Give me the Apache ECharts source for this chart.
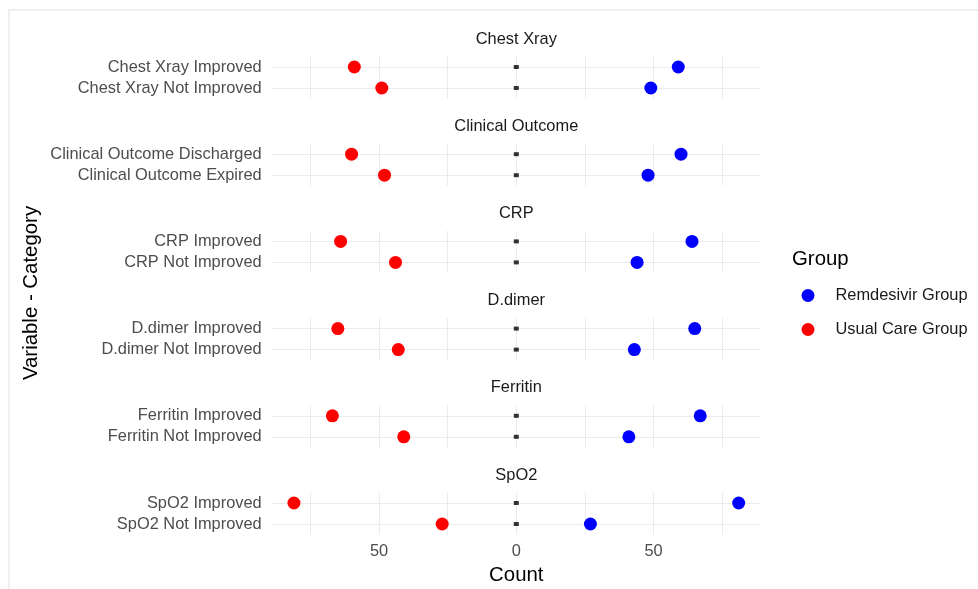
<!DOCTYPE html>
<html>
<head>
<meta charset="UTF-8">
<title>Count by Variable - Category</title>
<style>
  * { margin: 0; padding: 0; }
  html, body { width: 100%; height: 100%; background: #fff; }
  #chart { width: 978px; height: 589px; }
</style>
</head>
<body>
<div id="chart"></div>
<script src="https://cdn.jsdelivr.net/npm/echarts@6/dist/echarts.min.js"></script>
<script>
// facets and their rows
const panels = ['Chest Xray', 'Clinical Outcome', 'CRP', 'D.dimer', 'Ferritin', 'SpO2'];
const categories = [
  ['Chest Xray Improved', 'Chest Xray Not Improved'],
  ['Clinical Outcome Discharged', 'Clinical Outcome Expired'],
  ['CRP Improved', 'CRP Not Improved'],
  ['D.dimer Improved', 'D.dimer Not Improved'],
  ['Ferritin Improved', 'Ferritin Not Improved'],
  ['SpO2 Improved', 'SpO2 Not Improved']
];
// counts per panel: [first row, second row]
const remdesivir = [[59, 49], [60, 48], [64, 44], [65, 43], [67, 41], [81, 27]];
const usualCare = [[59, 49], [60, 48], [64, 44], [65, 43], [67, 41], [81, 27]];
const xTickLabels = [-50, 0, 50];
const xGridValues = [-75, -50, -25, 0, 25, 50, 75];

const FONT = '"Liberation Sans", Arial, sans-serif';
const SMALL = 16.4, BIG = 20.4;
const chart = echarts.init(document.getElementById('chart'));

// symmetric range like ggplot's 5% expansion
const maxCount = Math.max(...remdesivir.flat(), ...usualCare.flat());
const lim = maxCount * 1.1;

const top0 = 56.5, pitch = 87.2, panelH = 42;
const gridLeft = 271.7, gridWidth = 489.2;
const centerX = gridLeft + gridWidth / 2;

const grids = [], xAxes = [], yAxes = [], series = [], graphics = [];
const last = panels.length - 1;

panels.forEach((p, i) => {
  const top = top0 + pitch * i;
  grids.push({ left: gridLeft, width: gridWidth, top: top, height: panelH });
  xAxes.push({
    type: 'value', gridIndex: i, min: -lim, max: lim,
    axisLine: { show: false },
    axisTick: { show: false, customValues: xGridValues },
    splitLine: { show: true, lineStyle: { color: '#ebebeb', width: 1 } },
    axisLabel: {
      show: i === last, customValues: xTickLabels,
      formatter: v => String(Math.abs(v)),
      color: '#4d4d4d', fontSize: SMALL, fontFamily: FONT, margin: 9
    }
  });
  yAxes.push({
    type: 'category', gridIndex: i, data: categories[i], inverse: true,
    axisLine: { show: false }, axisTick: { show: false },
    splitLine: { show: true, alignWithLabel: true, lineStyle: { color: '#ebebeb', width: 1 } },
    axisLabel: { color: '#4d4d4d', fontSize: SMALL, fontFamily: FONT, margin: 10 }
  });
  series.push({
    name: 'zero', type: 'scatter', xAxisIndex: i, yAxisIndex: i,
    symbol: 'rect', symbolSize: [5, 4], itemStyle: { color: '#000' },
    data: categories[i].map(c => [0, c]), silent: true, z: 2
  });
  series.push({
    name: 'Usual Care Group', type: 'scatter', xAxisIndex: i, yAxisIndex: i,
    symbolSize: 13, itemStyle: { color: '#ff0000', opacity: 1 },
    data: usualCare[i].map((v, j) => [-v, categories[i][j]]), z: 3
  });
  series.push({
    name: 'Remdesivir Group', type: 'scatter', xAxisIndex: i, yAxisIndex: i,
    symbolSize: 13, itemStyle: { color: '#0000ff', opacity: 1 },
    data: remdesivir[i].map((v, j) => [v, categories[i][j]]), z: 3
  });
  // facet strip
  graphics.push({
    type: 'text', x: centerX, y: top - 17.5,
    style: { text: p, fill: '#1a1a1a', font: SMALL + 'px ' + FONT,
      align: 'center', verticalAlign: 'middle', textAlign: 'center', textVerticalAlign: 'middle' }
  });
});

// faint frame
graphics.push({ type: 'rect', z: -1, shape: { x: 8, y: 9, width: 970, height: 2 }, style: { fill: '#f0f0f0' } });
graphics.push({ type: 'rect', z: -1, shape: { x: 8, y: 9, width: 2, height: 580 }, style: { fill: '#f0f0f0' } });
// axis titles
graphics.push({
  type: 'text', x: centerX, y: 575,
  style: { text: 'Count', fill: '#000', font: BIG + 'px ' + FONT,
    align: 'center', verticalAlign: 'middle', textAlign: 'center', textVerticalAlign: 'middle' }
});
graphics.push({
  type: 'text', x: 31, y: 293, rotation: Math.PI / 2,
  style: { text: 'Variable - Category', fill: '#000', font: BIG + 'px ' + FONT,
    align: 'center', verticalAlign: 'middle', textAlign: 'center', textVerticalAlign: 'middle' }
});
graphics.push({
  type: 'text', x: 792, y: 259,
  style: { text: 'Group', fill: '#000', font: BIG + 'px ' + FONT,
    align: 'left', verticalAlign: 'middle', textAlign: 'left', textVerticalAlign: 'middle' }
});

chart.setOption({
  backgroundColor: '#ffffff',
  animation: false,
  grid: grids,
  xAxis: xAxes,
  yAxis: yAxes,
  legend: {
    data: ['Remdesivir Group', 'Usual Care Group'],
    orient: 'vertical', left: 801.5, top: 287.5, padding: 0,
    itemWidth: 13, itemHeight: 13, itemGap: 18, icon: 'circle',
    textStyle: { fontSize: SMALL, color: '#1a1a1a', fontFamily: FONT, padding: [0, 0, 0, 16] }
  },
  graphic: graphics,
  series: series
});
</script>
</body>
</html>
